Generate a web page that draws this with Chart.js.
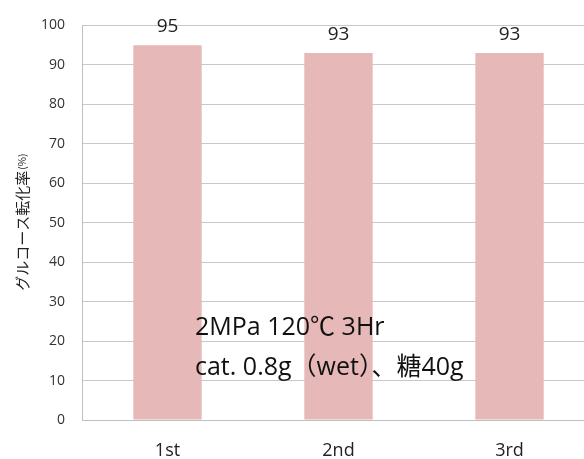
<!DOCTYPE html>
<html lang="ja">
<head>
<meta charset="UTF-8">
<title>グルコース転化率</title>
<script src="https://cdn.jsdelivr.net/npm/chart.js@4.4.1/dist/chart.umd.min.js"></script>
<style>
  html, body { margin: 0; padding: 0; background: #fff; overflow: hidden; }
  .chart-container { position: relative; width: 595px; height: 459px; }
</style>
</head>
<body>
<div class="chart-container">
  <canvas id="myChart"></canvas>
</div>
<script>
  const categories = ['1st', '2nd', '3rd'];
  const conversion = [95, 93, 93];
  const yTitle = 'グルコース転化率';
  const yUnit = '(%)';
  const noteLines = ['2MPa 120℃ 3Hr', 'cat. 0.8g（wet）、糖40g'];

  const FONT = '"Open Sans", "Noto Sans CJK JP", sans-serif';
  const JFONT = '"Noto Sans CJK JP", sans-serif';

  // value labels above each bar
  const barLabels = {
    id: 'barLabels',
    afterDatasetsDraw(chart) {
      const ctx = chart.ctx;
      const meta = chart.getDatasetMeta(0);
      ctx.save();
      ctx.font = '19px ' + FONT;
      ctx.fillStyle = '#222';
      ctx.textAlign = 'center';
      ctx.textBaseline = 'alphabetic';
      meta.data.forEach((bar, i) => {
        ctx.fillText(conversion[i], bar.x, bar.y - 13);
      });
      ctx.restore();
    }
  };

  // condition note over the bars + rotated y title with smaller unit
  const extraText = {
    id: 'extraText',
    afterDatasetsDraw(chart) {
      const ctx = chart.ctx;
      const y = chart.scales.y;
      const x = chart.scales.x;
      ctx.save();
      ctx.font = '25px ' + FONT;
      ctx.fillStyle = '#111';
      ctx.textAlign = 'left';
      ctx.textBaseline = 'middle';
      ctx.fillText(noteLines[0], x.left + 113, y.getPixelForValue(23.3));
      ctx.fillText(noteLines[1], x.left + 113, y.getPixelForValue(13.2));

      // y axis title
      const mid = (y.top + y.bottom) / 2;
      ctx.translate(22, mid);
      ctx.rotate(-Math.PI / 2);
      ctx.font = '15px ' + JFONT;
      const w1 = ctx.measureText(yTitle).width;
      ctx.font = '10px ' + JFONT;
      const w2 = ctx.measureText(yUnit).width;
      const start = -(w1 + w2) / 2;
      ctx.fillStyle = '#222';
      ctx.textBaseline = 'middle';
      ctx.font = '15px ' + JFONT;
      ctx.fillText(yTitle, start, 0);
      ctx.font = '10px ' + JFONT;
      ctx.fillText(yUnit, start + w1 + 1, 0);
      ctx.restore();
    }
  };

  new Chart(document.getElementById('myChart'), {
    type: 'bar',
    data: {
      labels: categories,
      datasets: [{
        data: conversion,
        backgroundColor: '#E6B9B8',
        barPercentage: 0.4,
        categoryPercentage: 1.0
      }]
    },
    options: {
      responsive: true,
      maintainAspectRatio: false,
      animation: false,
      layout: { padding: { top: 25, left: 0, right: 0, bottom: 0 } },
      plugins: {
        legend: { display: false },
        tooltip: { enabled: false }
      },
      scales: {
        x: {
          grid: { display: false, drawTicks: false },
          border: { color: '#BFBFBF' },
          ticks: { color: '#222', font: { size: 18, family: FONT }, padding: 20 },
          afterFit(s) { s.height = 39; }
        },
        y: {
          min: 0,
          max: 100,
          ticks: { stepSize: 10, color: '#333', font: { size: 14, family: FONT }, padding: 17 },
          grid: { color: '#C8C8C8', drawTicks: false },
          border: { color: '#BFBFBF' },
          afterFit(s) { s.width = 82; }
        }
      }
    },
    plugins: [barLabels, extraText]
  });
</script>
</body>
</html>
